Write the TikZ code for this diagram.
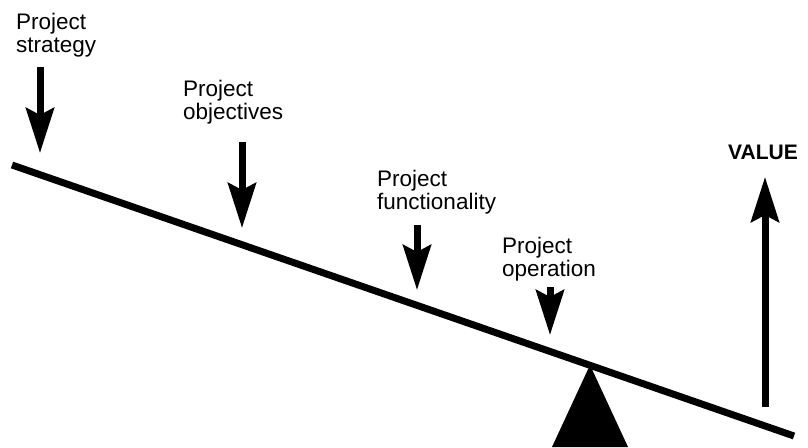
\documentclass[tikz,border=0pt]{standalone}
\usepackage{fontspec}
\setmainfont{Liberation Sans}
\usetikzlibrary{arrows.meta,positioning}

\begin{document}
\begin{tikzpicture}[
    x=1pt, y=-1pt,
    push/.style={draw, line width=7pt, -{Stealth[length=45pt, width=28pt, inset=7pt]}},
    forcetext/.style={anchor=north west, align=left, inner sep=0pt, font=\fontsize{22.5}{23}\selectfont},
    every node/.style={inner sep=0pt}
]
    \useasboundingbox (0,0) rectangle (808,447);

    % seesaw
    \coordinate (beam_l) at (12,165);
    \coordinate (beam_r) at (794,436);
    \coordinate (pivot) at (590,365);
    \fill (pivot) -- (552,447) -- (628,447) -- cycle;
    \draw[line width=7pt] (beam_l) -- (beam_r);

    % forces on the beam
    \node[forcetext] (strategy) at (16,13) {Project\\strategy};
    \node[forcetext] (objectives) at (183,80) {Project\\objectives};
    \node[forcetext] (functionality) at (377,170) {Project\\functionality};
    \node[forcetext] (operation) at (502,237) {Project\\operation};
    \node[anchor=north west, font=\fontsize{21}{23}\selectfont\bfseries] (value) at (728,145) {VALUE};

    \coordinate (strategy_top) at (40,67);
    \coordinate (strategy_tip) at (40,153);
    \coordinate (objectives_top) at (242,142);
    \coordinate (objectives_tip) at (242,228);
    \coordinate (functionality_top) at (417,225);
    \coordinate (functionality_tip) at (417,290);
    \coordinate (operation_top) at (550,287);
    \coordinate (operation_tip) at (550,335);
    \coordinate (value_foot) at (765,407);
    \coordinate (value_tip) at (765,177);

    \draw[push] (strategy_top) -- (strategy_tip);
    \draw[push] (objectives_top) -- (objectives_tip);
    \draw[push] (functionality_top) -- (functionality_tip);
    \draw[push] (operation_top) -- (operation_tip);
    \draw[push] (value_foot) -- (value_tip);
\end{tikzpicture}
\end{document}
